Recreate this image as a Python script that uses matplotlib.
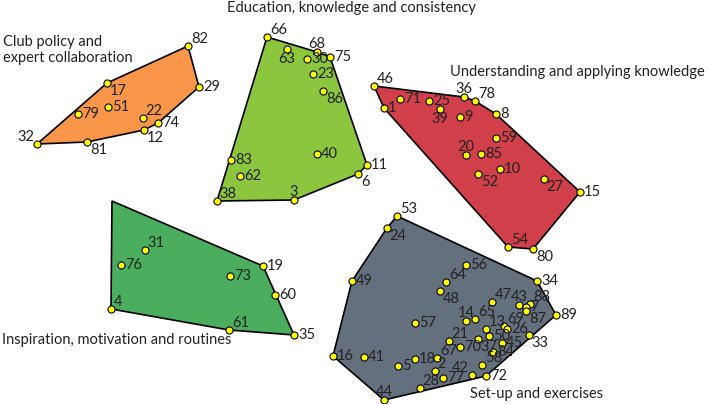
import matplotlib
matplotlib.use("Agg")
import matplotlib.pyplot as plt
from matplotlib.patches import Polygon

plt.rcParams["font.family"] = ["Lato", "DejaVu Sans"]

# point ids and map coordinates (y grows downwards)
club_ids = [82, 29, 17, 79, 51, 22, 74, 12, 81, 32]
club_x = [188, 199, 107, 78, 108, 143, 158, 144, 87, 37]
club_y = [46, 87, 83, 114, 107, 118, 123, 130, 142, 144]

edu_ids = [66, 63, 68, 30, 75, 23, 86, 40, 11, 6, 83, 62, 38, 3]
edu_x = [267, 287, 317, 307, 330, 313, 323, 317, 367, 358, 231, 240, 217, 294]
edu_y = [37, 49, 52, 59, 57, 74, 91, 154, 165, 174, 160, 176, 201, 200]

und_ids = [46, 1, 71, 25, 39, 36, 78, 9, 8, 59, 20, 85, 10, 52, 27, 15, 54, 80]
und_x = [374, 384, 400, 429, 440, 464, 475, 460, 496, 496, 466, 481, 500, 478, 544, 580, 508, 533]
und_y = [86, 108, 99, 101, 109, 97, 101, 117, 114, 138, 155, 154, 169, 174, 179, 192, 247, 249]

# 55 has no visible marker or label, only the polygon corner
insp_ids = [55, 31, 76, 19, 73, 60, 4, 61, 35]
insp_x = [112, 145, 121, 263, 230, 275, 111, 229, 294]
insp_y = [201, 250, 265, 266, 276, 295, 309, 330, 335]

setup_ids = [53, 24, 56, 49, 64, 48, 34, 47, 43, 88, 7, 87, 89, 14, 65, 57, 13, 69, 26,
             50, 33, 21, 37, 45, 70, 84, 16, 41, 18, 67, 5, 58, 2, 42, 72, 77, 28, 44]
setup_x = [397, 387, 466, 352, 446, 440, 537, 492, 519, 530, 526, 526, 556, 466, 475, 415, 486, 504, 507,
           489, 529, 449, 478, 502, 460, 493, 333, 364, 415, 437, 398, 482, 435, 472, 486, 443, 420, 384]
setup_y = [216, 228, 265, 281, 282, 291, 281, 302, 305, 304, 307, 311, 315, 321, 319, 323, 329, 326, 329,
           336, 335, 341, 339, 343, 347, 352, 356, 357, 359, 358, 366, 365, 371, 375, 376, 378, 388, 400]

groups = [
    ("Club policy and\nexpert collaboration", club_ids, club_x, club_y, "#F9964A"),
    ("Education, knowledge and consistency", edu_ids, edu_x, edu_y, "#8CC63E"),
    ("Understanding and applying knowledge", und_ids, und_x, und_y, "#D1404A"),
    ("Inspiration, motivation and routines", insp_ids, insp_x, insp_y, "#4BAE5E"),
    ("Set-up and exercises", setup_ids, setup_x, setup_y, "#65707F"),
]

# where each number sits relative to its dot (default: right)
label_pos = {
    82: "ur", 17: "dr", 22: "ur", 12: "dr", 81: "dr", 32: "ul",
    66: "ur", 63: "d", 68: "u", 86: "dr", 6: "dr", 38: "ur", 3: "u",
    46: "ur", 39: "d", 36: "u", 78: "ur", 20: "u", 52: "dr", 27: "dr", 54: "ur", 80: "dr",
    31: "ur", 4: "ur", 61: "ur",
    53: "ur", 24: "dr", 64: "ur", 48: "dr", 47: "ur", 43: "u", 88: "ur", 87: "dr",
    14: "u", 65: "ur", 13: "ur", 69: "ur", 37: "dr", 33: "dr", 21: "ur", 67: "ur",
    58: "ur", 2: "ur", 42: "ul", 28: "ur", 44: "u",
}
offsets = {
    "r": (3, 0, "left", "center"),
    "ur": (2, 0, "left", "bottom"),
    "dr": (2, -1, "left", "top"),
    "u": (0, 1, "center", "bottom"),
    "d": (0, -2, "center", "top"),
    "ul": (-2, 0, "right", "bottom"),
}

# group titles placed like in the picture
titles = {
    "Club policy and\nexpert collaboration": (3, 50, "left"),
    "Education, knowledge and consistency": (351, 8, "center"),
    "Understanding and applying knowledge": (450, 72, "left"),
    "Inspiration, motivation and routines": (2, 340, "left"),
    "Set-up and exercises": (470, 394, "left"),
}


def convex_hull(pts):
    pts = sorted(set(pts))
    def cross(o, a, b):
        return (a[0] - o[0]) * (b[1] - o[1]) - (a[1] - o[1]) * (b[0] - o[0])
    lower, upper = [], []
    for p in pts:
        while len(lower) >= 2 and cross(lower[-2], lower[-1], p) <= 0:
            lower.pop()
        lower.append(p)
    for p in reversed(pts):
        while len(upper) >= 2 and cross(upper[-2], upper[-1], p) <= 0:
            upper.pop()
        upper.append(p)
    return lower[:-1] + upper[:-1]


fig = plt.figure(figsize=(7.09, 4.04), dpi=100)
ax = fig.add_axes([0, 0, 1, 1])
ax.set_xlim(0, 709)
ax.set_ylim(404, 0)
ax.axis("off")

for name, ids, xs, ys, color in groups:
    hull = convex_hull(list(zip(xs, ys)))
    ax.add_patch(Polygon(hull, closed=True, facecolor=color, edgecolor="black",
                         linewidth=1.2, zorder=1))
    for pid, x, y in zip(ids, xs, ys):
        if pid == 55:
            continue
        ax.scatter(x, y, s=26, c="#FFFF00", edgecolors="black", linewidths=0.8, zorder=3)
        dx, dy, ha, va = offsets[label_pos.get(pid, "r")]
        ax.annotate(str(pid), (x, y), xytext=(dx, dy), textcoords="offset points",
                    ha=ha, va=va, fontsize=10.5, color="#222222", zorder=4)
    tx, ty, tha = titles[name]
    ax.text(tx, ty, name, ha=tha, va="center", fontsize=10.5, color="#222222",
            linespacing=1.25)

fig.savefig("out.png", dpi=100)
